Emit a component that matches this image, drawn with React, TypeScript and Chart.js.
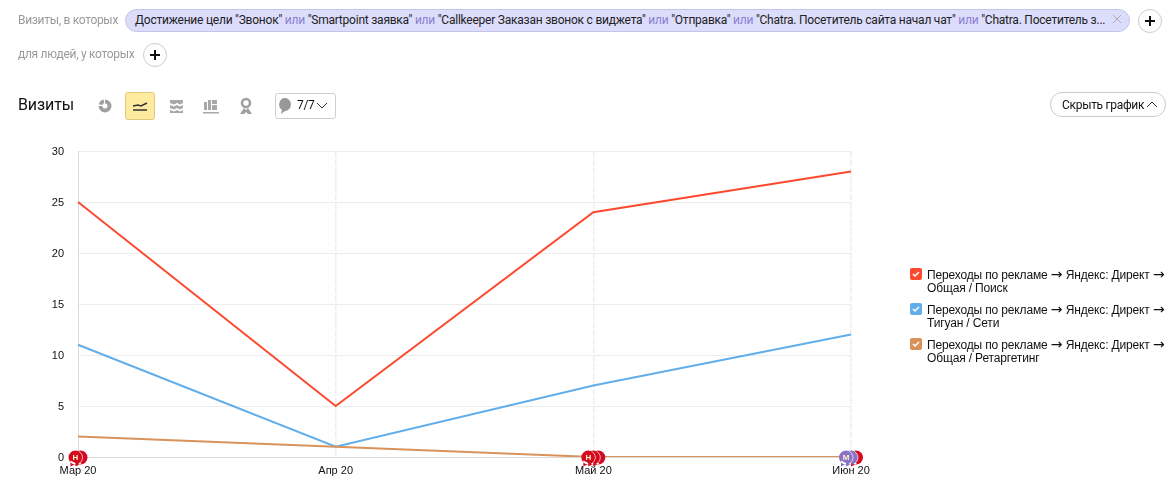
import React, { useEffect, useRef } from "react";
import { Chart, registerables } from "chart.js";

Chart.register(...registerables);

const categories = ["Мар 20", "Апр 20", "Май 20", "Июн 20"];
const yTicks = [0, 5, 10, 15, 20, 25, 30];
const seriesSearch = [25, 5, 24, 28];
const seriesNetworks = [11, 1, 7, 12];
const seriesRetargeting = [2, 1, 0, 0];
const seriesNames = [
  ["Переходы по рекламе → Яндекс: Директ → Общая / Поиск", "#fc4a2f"],
  ["Переходы по рекламе → Яндекс: Директ → Тигуан / Сети", "#62aeea"],
  ["Переходы по рекламе → Яндекс: Директ → Общая / Ретаргетинг", "#d8925a"],
];
// [category index, offset of the stacked bubble, colour, letter] — drawn back to front
const noteMarkers: [number, number, string, string][] = [
  [0, 2.5, "#d40b1e", ""],
  [0, -2.5, "#d40b1e", "Н"],
  [2, 5, "#d40b1e", ""],
  [2, 0, "#d40b1e", ""],
  [2, -5, "#d40b1e", "Н"],
  [3, 5, "#d40b1e", ""],
  [3, 0, "#8a72c8", ""],
  [3, -5, "#8a72c8", "М"],
];
const filterParts = ['Достижение цели "Звонок"', '"Smartpoint заявка"', '"Callkeeper Заказан звонок с виджета"', '"Отправка"', '"Chatra. Посетитель сайта начал чат"', '"Chatra. Посетитель з...'];

const uiFont = "Roboto, 'Liberation Sans', sans-serif";

const notesPlugin = {
  id: "notes",
  beforeDraw(chart: any) {
    // tick labels sit one pixel lower than the axis centring would put them
    for (const item of chart.scales.y.getLabelItems()) {
      if (!item.__moved) {
        item.options.translation = [item.options.translation[0], item.options.translation[1] + 1];
        item.__moved = true;
      }
    }
  },
  afterDatasetsDraw(chart: any) {
    const { ctx, scales } = chart;
    const y0 = scales.y.getPixelForValue(0) + 0.5;
    ctx.save();
    noteMarkers.forEach(([cat, shift, color, letter], i) => {
      const x = scales.x.getPixelForValue(cat) + shift;
      const r = 7;
      ctx.beginPath();
      ctx.arc(x, y0, r, 0, Math.PI * 2);
      ctx.moveTo(x - 5, y0 + 3);
      ctx.lineTo(x - 5, y0 + 9);
      ctx.lineTo(x + 1, y0 + 6);
      ctx.closePath();
      ctx.fillStyle = color;
      ctx.fill();
      const stacked = i > 0 && noteMarkers[i - 1][0] === cat;
      if (stacked) {
        ctx.strokeStyle = "rgba(255,255,255,0.85)";
        ctx.lineWidth = 0.8;
        ctx.beginPath();
        ctx.arc(x, y0, r, -1.1, 1.1);
        ctx.stroke();
      }
      if (letter) {
        ctx.fillStyle = "#fff6c8";
        ctx.font = "bold 8px 'Liberation Sans'";
        ctx.textAlign = "center";
        ctx.textBaseline = "middle";
        ctx.fillText(letter, x, y0 + 0.5);
      }
    });
    ctx.restore();
  },
};

const Txt = ({ x, y, s, c, children, ls = -0.3 }: any) => (
  <div style={{ position: "absolute", left: x, top: y, fontSize: s, color: c, whiteSpace: "nowrap", letterSpacing: ls, lineHeight: "18px", fontFamily: uiFont }}>{children}</div>
);

const Plus = ({ x, y }: any) => (
  <div style={{ position: "absolute", left: x, top: y, width: 24, height: 24, borderRadius: 12, border: "1px solid #ccc", boxSizing: "border-box", background: "#fff" }}>
    <svg width="22" height="22" style={{ display: "block" }}><path d="M11 6v10M6 11h10" stroke="#111" strokeWidth="2" /></svg>
  </div>
);

const Ic = ({ x, children }: any) => (
  <svg style={{ position: "absolute", left: x, top: 97 }} width="16" height="18" viewBox="0 0 16 18">{children}</svg>
);

const LegendName = ({ text }: { text: string }) => (
  <>
    {text.split("→").map((part, i) => (
      <span key={i}>
        {i > 0 && <span style={{ fontFamily: "'DejaVu Sans'", fontSize: 14, lineHeight: "1px", letterSpacing: 0 }}>→</span>}
        {part}
      </span>
    ))}
  </>
);

export default function App() {
  const ref = useRef<HTMLCanvasElement>(null);
  useEffect(() => {
    const line = (data: number[], borderColor: string) => ({
      data, borderColor, borderWidth: 2, pointRadius: 0, tension: 0, fill: false,
    });
    const chart = new Chart(ref.current!, {
      type: "line",
      data: {
        labels: categories,
        datasets: [
          line(seriesRetargeting, seriesNames[2][1]),
          line(seriesNetworks, seriesNames[1][1]),
          line(seriesSearch, seriesNames[0][1]),
        ],
      },
      plugins: [notesPlugin],
      options: {
        animation: false,
        responsive: false,
        layout: { padding: { left: 0, top: 151, right: 323, bottom: 22 } },
        plugins: { legend: { display: false }, tooltip: { enabled: false } },
        scales: {
          x: {
            offset: false,
            grid: { color: "#eeeeee", lineWidth: (c: any) => (c.index === 0 ? 1 : 1.6), drawTicks: false },
            border: { color: "#dcdcdc", dash: [7, 1.5] },
            ticks: { color: "#111", font: { family: "'Liberation Sans'", size: 11 }, maxRotation: 0, autoSkip: false, padding: 7, align: "center" },
            afterFit(s: any) { s.height = 23; },
          },
          y: {
            min: 0, max: 30,
            afterBuildTicks(s: any) { s.ticks = yTicks.map((value) => ({ value })); },
            grid: { color: "#ececec", lineWidth: 1, drawTicks: false },
            border: { color: "#dcdcdc" },
            ticks: { color: "#111", font: { family: "'Liberation Sans'", size: 11 }, padding: 14 },
            afterFit(s: any) { s.width = 78; },
          },
        },
      } as any,
    });
    return () => chart.destroy();
  }, []);

  return (
    <div style={{ position: "fixed", left: 0, top: 0, width: 1174, height: 502, overflow: "hidden", background: "#fff" }}>
      <canvas ref={ref} width={1174} height={502} style={{ position: "absolute", left: 0, top: 0, display: "block" }} />
      <Txt x={18} y={11} s={12} c="#999">Визиты, в которых</Txt>
      <div style={{ position: "absolute", left: 125, top: 9, width: 1005, height: 23, borderRadius: 12, background: "#dcdcfb", border: "1px solid #c4c4ea", boxSizing: "border-box" }} />
      <Txt x={135} y={11} s={12} c="#222" ls={-0.23}>
        {filterParts.map((p, i) => (
          <span key={i}>{i > 0 && <span style={{ color: "#8c80d0" }}> или </span>}{p}</span>
        ))}
      </Txt>
      <svg style={{ position: "absolute", left: 1112, top: 14 }} width="10" height="10"><path d="M1 1l8 8M9 1l-8 8" stroke="#aaa" strokeWidth="1" /></svg>
      <Plus x={1138} y={9} />
      <Txt x={18} y={45} s={12} c="#999">для людей, у которых</Txt>
      <Plus x={143} y={43} />
      <Txt x={18} y={96} s={16} c="#111" ls={-0.1}>Визиты</Txt>
      <Ic x={97}><path d="M8 2.5a6.5 6.5 0 1 1-6.5 6.5h4a2.5 2.5 0 1 0 2.5-2.5zM1.8 7.2A6.5 6.5 0 0 1 6.6 2.6l.7 3.5a3 3 0 0 0-2 1.8z" fill="#a0a0a0" /></Ic>
      <div style={{ position: "absolute", left: 125, top: 92, width: 30, height: 28, background: "#ffeba0", border: "1px solid #e0c878", borderRadius: 3, boxSizing: "border-box" }} />
      <svg style={{ position: "absolute", left: 132, top: 99 }} width="16" height="14"><path d="M1 7l5-1 3 1 6-3" fill="none" stroke="#333" strokeWidth="1.5" /><path d="M1 11h14" stroke="#333" strokeWidth="1.5" /></svg>
      <Ic x={169}><path d="M1 3h13v3l-3 1.5-3-1.5-3 1.5-4-1.5zM1 8l4 1.5 3-1.5 3 1.5 3-1.5v3l-3 1.5-3-1.5-3 1.5-4-1.5zM1 13l4 1.5 3-1.5 3 1.5 3-1.5v3H1z" fill="#a8a8a8" /></Ic>
      <Ic x={203}><path d="M1 5h3v8H1zM5 3h3v10H5zM9 3h5v4H9zM9 8h5v5H9zM0 15h16v1.4H0z" fill="#a8a8a8" /></Ic>
      <Ic x={238}><circle cx="8" cy="6" r="4" fill="none" stroke="#a0a0a0" strokeWidth="2.6" /><path d="M6 11l2 2 2-2 4 6h-4l-2-2-2 2H2z" fill="#a0a0a0" /></Ic>
      <div style={{ position: "absolute", left: 275, top: 93, width: 61, height: 26, border: "1px solid #d0d0d0", borderRadius: 3, boxSizing: "border-box" }} />
      <svg style={{ position: "absolute", left: 278, top: 97 }} width="14" height="18"><path d="M7 1a6 6.5 0 0 1 0 13l-4 3 1-4a6 6.5 0 0 1 3-12z" fill="#999" /></svg>
      <Txt x={297} y={96} s={12} c="#111">7/7</Txt>
      <svg style={{ position: "absolute", left: 316, top: 102 }} width="12" height="8"><path d="M1 1l5 5 5-5" fill="none" stroke="#333" /></svg>
      <div style={{ position: "absolute", left: 1050, top: 92, width: 116, height: 25, border: "1px solid #ccc", borderRadius: 12, boxSizing: "border-box" }} />
      <Txt x={1062} y={96} s={12} c="#111">Скрыть график</Txt>
      <svg style={{ position: "absolute", left: 1146, top: 101 }} width="12" height="8"><path d="M1 6l5-5 5 5" fill="none" stroke="#333" /></svg>
      {seriesNames.map(([name, color], i) => (
        <div key={i}>
          <div style={{ position: "absolute", left: 910, top: 268 + i * 35, width: 12, height: 12, borderRadius: 2, background: color }}>
            <svg width="12" height="12" style={{ display: "block" }}><path d="M3 6l2 2 4-4" fill="none" stroke="#fff" strokeWidth="1.5" /></svg>
          </div>
          <div style={{ position: "absolute", left: 927, top: 269 + i * 35, width: 243, fontFamily: "'Liberation Sans'", fontSize: 12, letterSpacing: -0.15, lineHeight: "13px", color: "#111" }}>
            <LegendName text={name} />
          </div>
        </div>
      ))}
    </div>
  );
}
